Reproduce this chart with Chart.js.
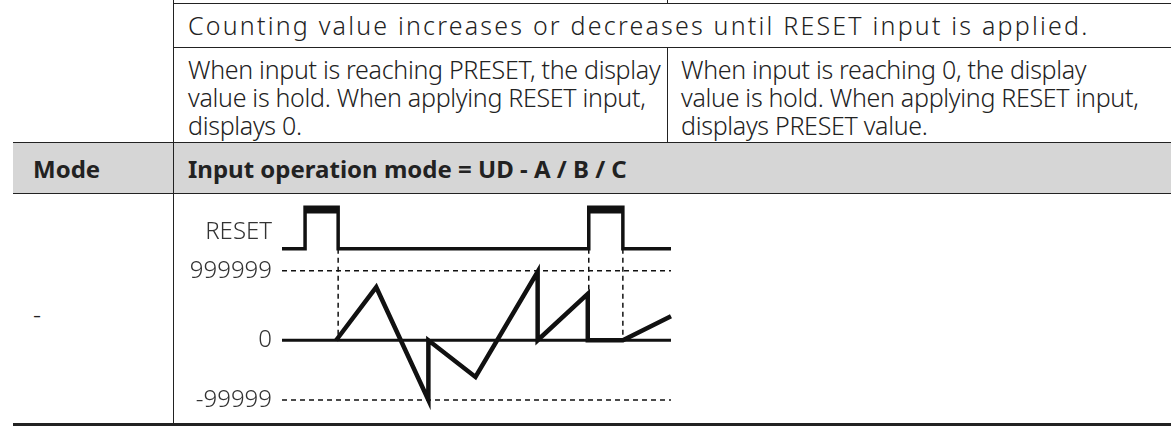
<!DOCTYPE html>
<html><head><meta charset="utf-8">
<script src="https://cdn.jsdelivr.net/npm/chart.js@4"></script>
<style>
body{margin:0;width:1171px;height:435px;background:#fff;position:relative;overflow:hidden;font-family:"Noto Sans",sans-serif;color:#222;}
.t{position:absolute;font-size:25px;line-height:28px;letter-spacing:-0.3px;font-weight:300;white-space:nowrap;}
.b{font-weight:700;letter-spacing:0;font-size:24px;}
.l{position:absolute;background:#222;}
</style></head><body>
<div class="l" style="left:173px;top:0;width:1px;height:425px"></div>
<div class="l" style="left:173px;top:3px;width:998px;height:1px"></div>
<div class="l" style="left:667px;top:0;width:1px;height:3px"></div>
<div class="l" style="left:173px;top:47px;width:998px;height:1px"></div>
<div class="l" style="left:667px;top:47px;width:1px;height:95px"></div>
<div style="position:absolute;left:13px;top:142px;width:1158px;height:51px;background:#d6d6d6"></div>
<div class="l" style="left:13px;top:142px;width:1158px;height:1px"></div>
<div class="l" style="left:13px;top:193px;width:1158px;height:1px"></div>
<div class="l" style="left:173px;top:142px;width:1px;height:51px"></div>
<div class="l" style="left:13px;top:423px;width:1158px;height:3px"></div>
<div class="t" style="left:188px;top:11px;letter-spacing:2.2px">Counting value increases or decreases until RESET input is applied.</div>
<div class="t" style="left:188px;top:55px">When input is reaching PRESET, the display<br>value is hold. When applying RESET input,<br>displays 0.</div>
<div class="t" style="left:681px;top:55px">When input is reaching 0, the display<br>value is hold. When applying RESET input,<br>displays PRESET value.</div>
<div class="t b" style="left:33px;top:155px">Mode</div>
<div class="t b" style="left:188px;top:155px">Input operation mode = UD - A / B / C</div>
<div class="t" style="left:33px;top:300px">-</div>
<div style="position:absolute;left:174px;top:180px;width:505px;height:253px"><canvas id="c"></canvas></div>
<script>
// time in px-like units, level: 0 = zero line
const counterX = [336, 376, 428, 428, 475, 537, 537, 587, 587, 622, 670];
const counterY = [0, 55, -62, 0, -38, 71, 0, 48, 0, 0, 25];
const resetX = [282, 305, 305, 338, 338, 588, 588, 622, 622, 670];
const resetY = [95, 95, 138, 138, 95, 95, 138, 138, 95, 95];
const tickValues = [112, 72, 0, -62];
const tickLabels = ["RESET", "999999", "0", "-99999"];
const pulseX = [[305, 338], [588, 622]];
const guideLevels = [72, -62];
const markerX = [338, 588, 622];

const pts = (xs, ys) => xs.map((x, i) => ({ x: x, y: ys[i] }));
const ds = [];
ds.push({ data: pts(counterX, counterY), borderColor: "#111", borderWidth: 4.5, pointRadius: 0, borderJoinStyle: "miter" });
ds.push({ data: pts(resetX, resetY), borderColor: "#111", borderWidth: 3.5, pointRadius: 0 });
ds.push({ data: [{ x: 282, y: 0 }, { x: 670, y: 0 }], borderColor: "#111", borderWidth: 3, pointRadius: 0 });
pulseX.forEach((p) => ds.push({ data: [{ x: p[0], y: 135 }, { x: p[1], y: 135 }], borderColor: "#111", borderWidth: 7, pointRadius: 0 }));
guideLevels.forEach((v) => ds.push({ data: [{ x: 282, y: v }, { x: 670, y: v }], borderColor: "#111", borderWidth: 1.5, borderDash: [5, 4], pointRadius: 0 }));
markerX.forEach((x) => ds.push({ data: [{ x: x, y: 95 }, { x: x, y: 0 }], borderColor: "#111", borderWidth: 1.5, borderDash: [5, 4], pointRadius: 0 }));

new Chart(document.getElementById("c"), {
  type: "line",
  data: { datasets: ds },
  options: {
    responsive: true, maintainAspectRatio: false, animation: false,
    layout: { padding: 0 },
    plugins: { legend: { display: false }, tooltip: { enabled: false } },
    scales: {
      x: { type: "linear", min: 278, max: 678, display: false },
      y: {
        min: -75, max: 145,
        grid: { display: false, drawTicks: false, tickLength: 0 }, border: { display: false },
        afterFit: (s) => { s.width = 104; },
        afterBuildTicks: (s) => { s.ticks = tickValues.map((v) => ({ value: v })); },
        ticks: {
          autoSkip: false, padding: 6, color: "#333",
          font: { family: "Noto Sans", size: 24, weight: 300 },
          callback: (v) => tickLabels[tickValues.indexOf(v)],
        },
      },
    },
  },
});
</script>
</body></html>
